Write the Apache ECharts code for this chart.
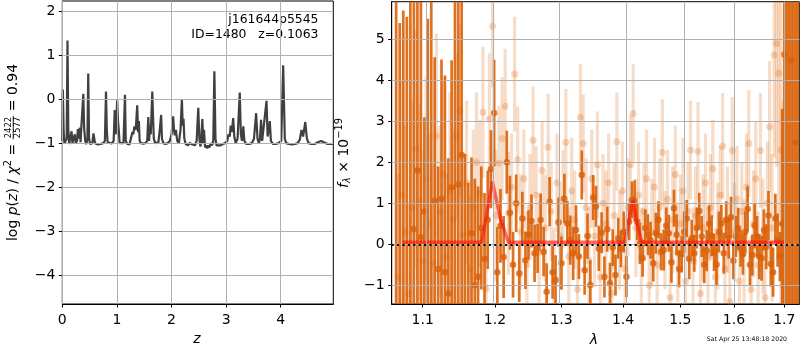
<!DOCTYPE html>
<html><head><meta charset="utf-8">
<script src="https://cdn.jsdelivr.net/npm/echarts@6/dist/echarts.min.js"></script>
<style>html,body{margin:0;padding:0;background:#fff}#c{width:800px;height:350px}</style>
</head><body><div id="c"></div>
<script>
// ---------- left panel: log p(z) ----------
const zGrid = [0.000,0.010,0.025,0.040,0.060,0.080,0.095,0.110,0.125,0.150,0.170,0.185,0.215,0.230,0.245,0.270,0.285,0.300,0.320,0.335,0.350,0.370,0.385,0.400,0.420,0.440,0.460,0.475,0.490,0.510,0.550,0.570,0.585,0.600,0.650,0.700,0.750,0.780,0.800,0.815,0.830,0.860,0.900,0.940,0.960,0.980,1.005,1.020,1.035,1.050,1.080,1.120,1.135,1.148,1.162,1.190,1.230,1.265,1.285,1.300,1.320,1.345,1.372,1.387,1.402,1.417,1.440,1.480,1.520,1.555,1.575,1.590,1.605,1.620,1.648,1.662,1.676,1.700,1.730,1.760,1.785,1.810,1.825,1.850,1.890,1.930,1.970,2.000,2.030,2.045,2.060,2.080,2.105,2.135,2.165,2.190,2.205,2.220,2.235,2.260,2.300,2.330,2.360,2.390,2.430,2.460,2.490,2.510,2.530,2.545,2.565,2.580,2.595,2.615,2.635,2.655,2.675,2.695,2.715,2.745,2.765,2.785,2.805,2.825,2.860,2.900,2.940,2.980,3.020,3.045,3.065,3.085,3.105,3.130,3.150,3.175,3.210,3.250,3.270,3.290,3.315,3.335,3.370,3.420,3.470,3.510,3.550,3.575,3.600,3.620,3.640,3.660,3.690,3.740,3.760,3.780,3.800,3.820,3.860,3.910,3.960,4.010,4.045,4.075,4.100,4.150,4.200,4.260,4.310,4.350,4.380,4.410,4.450,4.480,4.510,4.560,4.620,4.680,4.740,4.790,4.860,4.960];
const logPz = [-0.95,0.22,-0.75,-1.00,-1.03,-0.90,1.33,-0.70,-1.02,-1.00,-0.73,-1.00,-0.85,-0.80,-1.00,-0.95,-0.68,-0.90,-0.65,-0.98,-0.62,-0.60,0.12,-0.66,-0.95,-1.02,-0.90,0.58,-0.90,-1.02,-1.00,-0.78,-0.82,-1.00,-1.03,-1.02,-1.00,-0.95,0.17,-0.70,-0.98,-1.02,-1.01,-0.95,-0.25,-0.80,-0.03,-0.50,-0.72,-1.00,-1.02,-1.00,-0.98,0.10,-0.95,-1.02,-1.03,-1.00,-0.75,-0.80,-0.62,-0.70,-0.14,-0.75,-0.50,-0.95,-1.00,-1.01,-1.00,-0.95,-0.41,-0.95,-0.60,-0.80,0.17,-0.40,-0.90,-1.00,-1.02,-0.98,-0.70,-0.36,-0.90,-1.00,-1.02,-1.00,-0.95,-0.80,-0.39,-0.70,-0.82,-0.70,-0.95,-1.00,-0.70,0.00,-0.60,-0.45,-0.90,-1.02,-1.05,-1.00,-0.98,-1.03,-1.05,-0.95,-0.20,-0.90,-1.08,-0.90,-0.45,-1.00,-0.70,-1.10,-1.05,-1.12,-1.05,-1.10,-1.00,-1.05,-0.95,0.63,-0.90,-1.05,-1.08,-1.05,-1.02,-1.00,-0.95,-0.80,-0.85,-0.60,-0.75,-0.43,-0.85,-1.00,-0.90,0.15,-0.80,-0.95,-0.62,-0.95,-1.02,-1.02,-1.00,-0.90,-0.32,-0.90,-1.00,-0.90,-0.47,-0.95,-0.95,-0.04,-0.85,-0.70,-0.50,-0.95,-1.02,-1.02,-1.00,-0.95,0.77,-0.90,-1.00,-1.02,-1.03,-1.02,-1.00,-0.92,-0.70,-0.85,-0.52,-0.90,-1.00,-1.02,-1.02,-0.98,-0.95,-0.98,-1.02,-1.02];
const zTicks = [0,1,2,3,4];
const pzTicks = [-4,-3,-2,-1,0,1,2];

// ---------- right panel: spectrum ----------
const darkLam = [1.0654,1.0700,1.0746,1.0792,1.0838,1.0884,1.0930,1.0976,1.1022,1.1068,1.1114,1.1160,1.1206,1.1252,1.1298,1.1344,1.1390,1.1436,1.1482,1.1528,1.1574,1.1620,1.1666,1.1712,1.1758,1.1804,1.1850,1.1896,1.1942,1.1988,1.2034,1.2080,1.2126,1.2172,1.2218,1.2264,1.2310,1.2356,1.2402,1.2448,1.2494,1.2540,1.2586,1.2632,1.2678,1.2724,1.2770,1.2816,1.2862,1.2908,1.2954,1.3000,1.3046,1.3092,1.3138,1.3184,1.3230,1.3276,1.3322,1.3368,1.3414,1.3460,1.3506,1.3552,1.3598,1.3644,1.3690,1.3736,1.3782,1.3828,1.3874,1.3920,1.3966,1.4012,1.4058,1.4104,1.4150,1.4196,1.4242,1.4288,1.4334,1.4380,1.4426,1.4472,1.4518,1.4564,1.4610,1.4656,1.4702,1.4748,1.4794,1.4840,1.4886,1.4932,1.4978,1.5024,1.5070,1.5116,1.5162,1.5208,1.5254,1.5300,1.5346,1.5392,1.5438,1.5484,1.5530,1.5576,1.5622,1.5668,1.5714,1.5760,1.5806,1.5852,1.5898,1.5944,1.5990,1.6036,1.6082,1.6128,1.6174,1.6220,1.6266,1.6312,1.6358,1.6404,1.6450,1.6496,1.6542,1.6588,1.6634,1.6680,1.6726,1.6772,1.6818,1.6864,1.6910,1.6956,1.7002,1.7048,1.7094,1.7140,1.7186,1.7232,1.7278];
const darkFlux = [-2.0,-2.6,-1.8,-2.0,7.0,0.37,1.80,0.17,0.80,-2.0,6.2,1.06,-0.6,1.11,-0.68,-1.2,1.39,6.5,1.46,2.18,-1.8,-1.7,0.27,-1.0,-0.79,0.40,-0.35,0.6,1.83,3.2,-0.68,0.45,-0.31,2.0,0.77,-0.5,1.0,-0.71,0.63,-0.39,0.23,0.57,-0.22,-0.1,0.59,-0.18,-1.16,1.04,-0.68,-0.87,0.54,-0.46,1.12,0.51,0.1,-0.22,0.35,-0.3,1.69,-0.63,0.2,-0.99,1.14,0.93,-0.1,0.28,-0.80,0.37,-0.95,-0.08,-0.75,0.15,-0.11,0.3,-0.79,0.55,1.08,1.06,0.55,0.02,-0.34,0.4,0.23,0.10,-0.46,0.27,0.6,-0.18,-0.14,0.45,0.27,-0.44,0.88,0.23,-0.6,-0.24,0.3,0.63,-0.35,0.15,-0.22,0.4,0.81,0.19,-0.5,-0.16,0.5,0.21,-0.2,-0.49,0.3,0.51,-0.22,0.6,0.15,0.66,-0.4,0.19,0.39,-0.1,-0.24,0.3,0.86,-0.5,-0.26,0.45,0.19,-0.3,-0.34,0.35,-0.06,0.7,-0.48,-0.68,0.63,0.10,-0.3,0.5,4.63,-1.5,-2.5,4.49,7.0,2.49,-2.0];
const darkErr = [9,8,7.5,7.55,9,6.5,6.0,7,2.3,7.5,8,3.5,2.5,3.4,4.8,3.3,3.1,9,5.0,4.5,4.0,3.2,1.85,2.6,2.2,1.5,1.6,1.2,0.95,1.3,1.1,0.9,1.0,0.77,0.9,0.8,0.7,
0.7,0.65,0.7,0.6,0.65,0.7,0.6,0.65,0.6,0.7,0.6,0.65,0.6,0.6,0.65,0.6,0.55,0.6,0.65,0.6,0.55,0.6,0.6,0.55,0.6,
0.55,0.5,0.55,0.5,0.5,0.55,0.5,0.45,0.5,0.5,0.45,0.5,0.5,0.45,0.45,0.5,0.45,0.5,0.45,0.45,0.5,0.45,0.45,0.5,0.45,0.45,0.5,0.45,0.45,0.5,0.45,0.5,0.45,0.45,0.5,0.45,0.5,0.45,0.45,0.5,0.45,0.5,0.45,0.5,0.45,0.5,0.45,0.5,0.5,0.45,
0.5,0.45,0.5,0.5,0.45,0.5,0.5,0.45,0.5,0.5,0.55,0.5,0.5,0.55,0.5,0.55,0.55,0.5,0.55,0.6,0.55,0.6,0.6,0.65,0.6,2.8,
7,8,9,8,9,6,9];

const lightLam = [1.0677,1.0723,1.0769,1.0815,1.0861,1.0907,1.0953,1.0999,1.1045,1.1091,1.1137,1.1183,1.1229,1.1275,1.1321,1.1367,1.1413,1.1459,1.1505,1.1551,1.1597,1.1643,1.1689,1.1735,1.1781,1.1827,1.1873,1.1919,1.1965,1.2011,1.2057,1.2103,1.2149,1.2195,1.2241,1.2287,1.2333,1.2379,1.2425,1.2471,1.2517,1.2563,1.2609,1.2655,1.2701,1.2747,1.2793,1.2839,1.2885,1.2931,1.2977,1.3023,1.3069,1.3115,1.3161,1.3207,1.3253,1.3299,1.3345,1.3391,1.3437,1.3483,1.3529,1.3575,1.3621,1.3667,1.3713,1.3759,1.3805,1.3851,1.3897,1.3943,1.3989,1.4035,1.4081,1.4127,1.4173,1.4219,1.4265,1.4311,1.4357,1.4403,1.4449,1.4495,1.4541,1.4587,1.4633,1.4679,1.4725,1.4771,1.4817,1.4863,1.4909,1.4955,1.5001,1.5047,1.5093,1.5139,1.5185,1.5231,1.5277,1.5323,1.5369,1.5415,1.5461,1.5507,1.5553,1.5599,1.5645,1.5691,1.5737,1.5783,1.5829,1.5875,1.5921,1.5967,1.6013,1.6059,1.6105,1.6151,1.6197,1.6243,1.6289,1.6335,1.6381,1.6427,1.6473,1.6519,1.6565,1.6611,1.6657,1.6703,1.6749,1.6795,1.6841,1.6887,1.6933,1.6979];
const lightFlux = [-0.8,1.2,0.3,-1.2,0.9,2.32,1.04,-0.4,1.6,0.5,-0.46,2.64,0.8,1.7,-0.3,1.3,0.61,2.64,3.25,0.24,1.5,-0.6,0.9,2.0,1.24,3.22,-1.09,3.06,5.32,0.7,1.98,2.58,3.37,0.76,1.4,4.15,2.06,0.3,1.6,-0.5,0.9,2.54,1.2,-0.2,1.8,0.4,2.37,0.8,-0.9,1.5,0.2,1.1,2.49,-0.3,1.3,0.6,-1.1,3.1,2.46,0.9,-0.4,1.6,0.2,1.94,-0.8,1.0,0.5,1.5,-1.2,0.7,2.5,0.1,1.3,-0.6,0.9,1.94,3.19,0.4,1.2,-0.3,0.8,1.6,-1.0,0.3,1.4,-0.5,0.9,2.24,0.1,1.1,-1.3,0.6,1.7,-0.2,0.5,1.3,-0.9,0.8,2.3,-0.4,0.7,2.27,-1.2,0.4,1.5,-0.3,0.9,1.84,-0.8,0.2,1.2,2.39,-0.6,0.6,-1.4,2.29,0.3,1.1,-0.9,0.8,-0.2,1.4,2.46,-1.1,0.5,1.6,-0.5,2.29,0.2,-1.3,1.0,2.87,0.4,4.62,4.9,4.17,2.3,-1.0];
const lightErr = [2.5,2.8,2.6,2.2,2.6,2.9,2.4,2.7,2.5,2.2,2.4,2.5,2.1,2.3,2.0,2.4,2.2,2.0,2.1,1.9,2.0,1.8,1.9,1.7,1.8,1.6,1.7,1.6,1.5,1.6,1.4,1.5,1.4,1.5,1.3,1.4,1.3,1.4,1.2,1.3,1.3,1.3,1.2,1.3,1.2,1.3,1.3,1.2,1.3,1.2,1.3,1.2,1.3,1.2,1.3,1.2,1.3,1.3,1.2,1.2,1.3,1.2,1.2,1.3,1.2,1.2,1.3,1.2,1.2,1.3,1.2,1.2,1.2,1.3,1.2,1.2,1.2,1.2,1.3,1.2,1.2,1.2,1.2,1.3,1.2,1.2,1.2,1.3,1.2,1.2,1.2,1.3,1.2,1.2,1.2,1.3,1.2,1.2,1.2,1.3,1.2,1.2,1.2,1.3,1.2,1.2,1.3,1.2,1.2,1.3,1.2,1.3,1.2,1.3,1.2,1.3,1.2,1.3,1.3,1.2,1.3,1.3,1.3,1.3,1.3,1.4,1.3,1.4,1.4,1.4,1.5,1.6,1.8,2.5,3.0,3.5,4.0,4.5];

const modelLam = [1.0740,1.1810,1.1962,1.2073,1.2194,1.4029,1.4170,1.4237,1.4322,1.7012];
const modelFlux = [0.05,0.05,1.53,0.67,0.05,0.05,1.08,0.51,0.05,0.05];
const lamTicks = [1.1,1.2,1.3,1.4,1.5,1.6,1.7];
const fluxTicks = [-1,0,1,2,3,4,5];

const title1 = 'j161644p5545';
const title2 = 'ID=1480   z=0.1063';
const stamp = 'Sat Apr 25 13:48:18 2020';

// ---------- build ----------
const FONT = 'DejaVu Sans';
const minus = v => (v < 0 ? '\u2212' + (-v) : String(v));
const ln = Math.log;
const darkData = darkLam.map((l, i) => [ln(l), darkFlux[i], darkErr[i]]);
const lightData = lightLam.map((l, i) => [ln(l), lightFlux[i], lightErr[i]]);
const modelData = modelLam.map((l, i) => [ln(l), modelFlux[i]]);
const pzData = zGrid.map((z, i) => [z, logPz[i]]);

function errBars(color, width) {
  return function (params, api) {
    const x = api.value(0), y = api.value(1), e = api.value(2);
    const p1 = api.coord([x, y - e]), p2 = api.coord([x, y + e]);
    return { type: 'line', shape: { x1: p1[0], y1: p1[1], x2: p2[0], y2: p2[1] },
      style: { stroke: color, lineWidth: width } };
  };
}

const ctx = document.createElement('canvas').getContext('2d');
function meas(t, s, it) { ctx.font = (it ? 'italic ' : '') + s + 'px "' + FONT + '"'; return ctx.measureText(t).width; }
function txt(t, x, y, s, it, align) {
  return { type: 'text', x: x, y: y, style: { text: t, fontSize: s, fontFamily: FONT, fontStyle: it ? 'italic' : 'normal',
    fill: '#000', align: align, textAlign: align, verticalAlign: 'middle', textVerticalAlign: 'middle' } };
}
function mathLabel(pieces, cx, cy, base) {
  let x = 0; const kids = [];
  pieces.forEach(p => {
    if (p.frac) {
      const s = p.size, w = Math.max(meas(p.frac[0], s), meas(p.frac[1], s)) + 2;
      kids.push(txt(p.frac[0], x + w / 2, p.ny, s, false, 'center'));
      kids.push(txt(p.frac[1], x + w / 2, p.dy, s, false, 'center'));
      kids.push({ type: 'line', shape: { x1: x, y1: p.by, x2: x + w, y2: p.by }, style: { stroke: '#000', lineWidth: 0.8 } });
      x += w;
    } else {
      const s = p.size || base;
      kids.push(txt(p.t, x, p.dy || 0, s, p.it, 'left'));
      x += meas(p.t, s, p.it);
    }
  });
  return { type: 'group', x: cx, y: cy, rotation: Math.PI / 2,
    children: [{ type: 'group', x: -x / 2, y: 0, children: kids }] };
}

const leftLabel = mathLabel([
  { t: 'log' }, { t: ' ' }, { t: 'p', it: 1 }, { t: '(' }, { t: 'z', it: 1 }, { t: ')' }, { t: ' / ' },
  { t: 'χ', it: 1 }, { t: '2', size: 9.8, dy: -5 }, { t: ' = ' },
  { frac: ['2422', '2577'], size: 8.5, ny: -4.5, dy: 3.8, by: -0.3 },
  { t: ' = ' }, { t: '0.94' }
], 13.5, 152.5, 14);
const rightLabel = mathLabel([
  { t: 'f', it: 1 }, { t: 'λ', it: 1, size: 9.8, dy: 3.5 }, { t: ' × 10' }, { t: '\u221219', size: 9.8, dy: -5 }
], 344, 153, 14);

function axis(extra, ticks, fmt, margin) {
  return Object.assign({ type: 'value' }, extra, {
    axisLine: { show: true, onZero: false, lineStyle: { color: '#000', width: 1 } },
    axisTick: { show: true, customValues: ticks, length: 3.5, lineStyle: { color: '#000', width: 1 } },
    splitLine: { show: false },
    axisLabel: { customValues: ticks, formatter: fmt, fontSize: 14, fontFamily: FONT, color: '#000', margin: margin }
  });
}
function gridLines(xi, xs, ys) {
  return { type: 'line', xAxisIndex: xi, yAxisIndex: xi, data: [], z: 1, silent: true,
    markLine: { silent: true, symbol: 'none', label: { show: false }, animation: false,
      lineStyle: { color: '#b0b0b0', width: 1, type: 'solid' },
      data: xs.map(v => ({ xAxis: v })).concat(ys.map(v => ({ yAxis: v }))) } };
}

const chart = echarts.init(document.getElementById('c'), null, { renderer: 'canvas', width: 800, height: 350 });
chart.setOption({
  animation: false,
  textStyle: { fontFamily: FONT },
  grid: [
    { left: 62.3, right: 466.7, top: 1, bottom: 46, show: true, borderColor: '#000', borderWidth: 1 },
    { left: 391.7, right: 0.7, top: 1.7, bottom: 46, show: true, borderColor: '#000', borderWidth: 1 }
  ],
  xAxis: [
    axis({ gridIndex: 0, min: 0, max: 4.963 }, zTicks, v => minus(v), 9),
    axis({ gridIndex: 1, min: ln(1.0597), max: ln(1.731) }, lamTicks.map(ln), v => Math.exp(v).toFixed(1), 9)
  ],
  yAxis: [
    axis({ gridIndex: 0, min: -4.652, max: 2.227 }, pzTicks, v => minus(v), 7),
    axis({ gridIndex: 1, min: -1.456, max: 5.917 }, fluxTicks, v => minus(v), 7)
  ],
  series: [
    gridLines(0, zTicks, pzTicks),
    gridLines(1, lamTicks.map(ln), fluxTicks),
    { type: 'line', xAxisIndex: 0, yAxisIndex: 0, data: pzData, showSymbol: false,
      lineStyle: { color: '#404040', width: 2.2 }, itemStyle: { color: '#404040' } },
    { type: 'custom', xAxisIndex: 1, yAxisIndex: 1, data: lightData, clip: true,
      encode: { x: 0, y: 1 }, renderItem: errBars('rgba(217,95,2,0.22)', 3.2) },
    { type: 'scatter', xAxisIndex: 1, yAxisIndex: 1, data: lightData.map(d => [d[0], d[1]]), symbolSize: 7,
      itemStyle: { color: 'rgba(217,95,2,0.3)' } },
    { type: 'custom', xAxisIndex: 1, yAxisIndex: 1, data: darkData, clip: true,
      encode: { x: 0, y: 1 }, renderItem: errBars('rgba(217,95,2,0.88)', 2.7) },
    { type: 'scatter', xAxisIndex: 1, yAxisIndex: 1, data: darkData.map(d => [d[0], d[1]]), symbolSize: 6.5,
      itemStyle: { color: '#d9600a' } },
    { type: 'line', xAxisIndex: 1, yAxisIndex: 1, data: modelData, showSymbol: false,
      lineStyle: { color: 'rgba(255,10,10,0.6)', width: 3.4 },
      markLine: { silent: true, symbol: 'none', label: { show: false },
        lineStyle: { color: '#000', width: 2, type: [2, 3.4] }, data: [{ yAxis: 0 }] } }
  ],
  graphic: [
    txt(title1, 318.5, 19.5, 12.4, false, 'right'),
    txt(title2, 318.5, 34.5, 12.4, false, 'right'),
    txt('z', 197, 339, 14, true, 'center'),
    txt('λ', 594, 340, 14, true, 'center'),
    txt(stamp, 787, 339, 6.2, false, 'right'),
    leftLabel,
    rightLabel
  ]
});
</script></body></html>
